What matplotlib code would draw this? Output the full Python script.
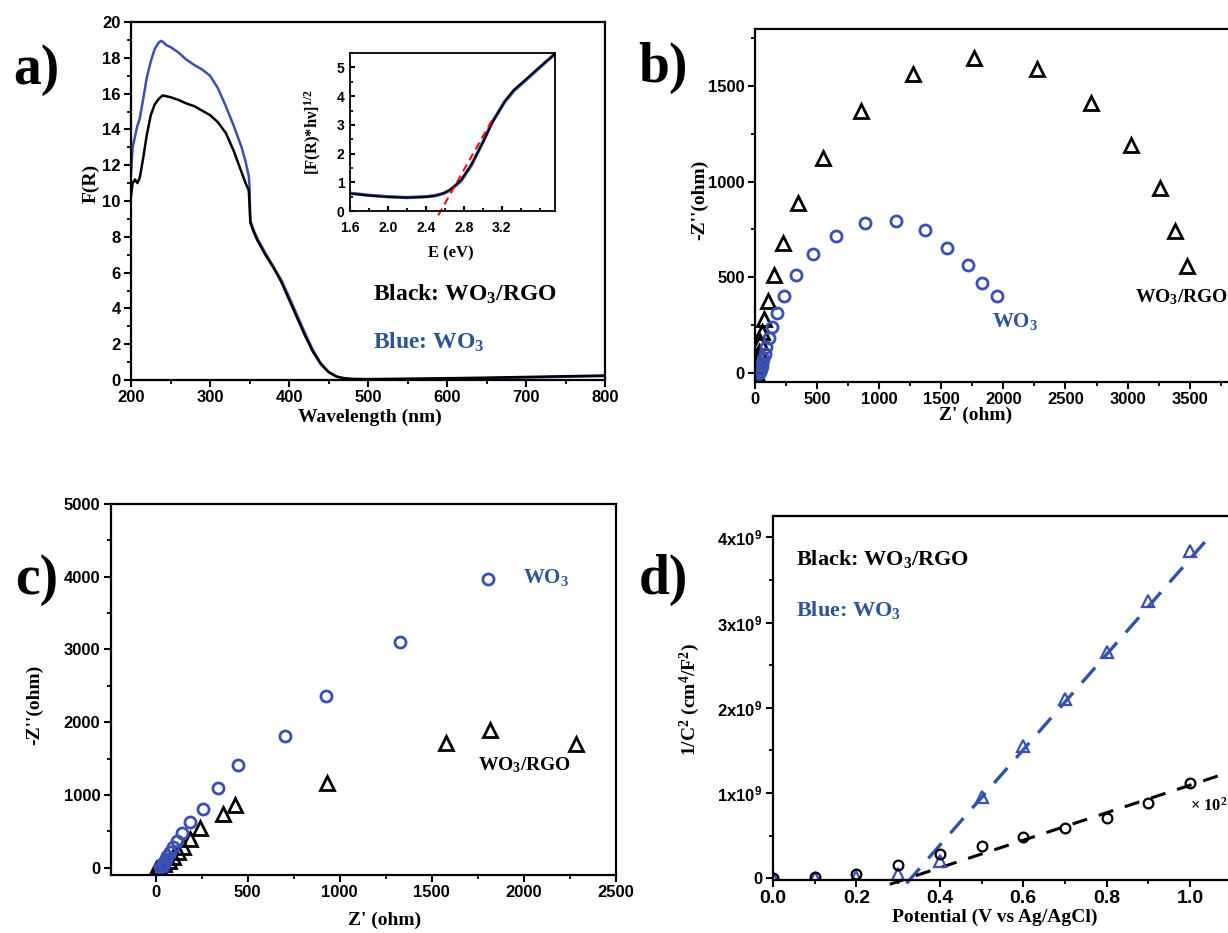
import matplotlib
matplotlib.use("Agg")
import matplotlib.pyplot as plt
from matplotlib.ticker import MultipleLocator, FixedLocator, FixedFormatter

# ---------------- data ----------------
# a) diffuse reflectance, F(R) vs wavelength
wl_black = [200, 202, 205, 208, 211, 215, 220, 225, 230, 235, 240, 245, 250, 260, 270, 280,
            290, 300, 310, 320, 330, 340, 345, 349, 350, 351, 355, 360, 370, 380, 390, 400,
            410, 420, 430, 440, 450, 460, 470, 480, 500, 550, 600, 650, 700, 750, 800]
fr_black = [10.3, 11.0, 11.2, 11.0, 11.3, 12.3, 13.7, 14.8, 15.4, 15.7, 15.9, 15.85, 15.8, 15.65,
            15.45, 15.3, 15.05, 14.8, 14.4, 13.8, 12.8, 11.6, 11.0, 10.6, 9.8, 8.8, 8.3, 7.8, 7.0,
            6.3, 5.5, 4.5, 3.5, 2.5, 1.6, 0.9, 0.45, 0.2, 0.1, 0.06, 0.05, 0.07, 0.1, 0.13,
            0.17, 0.21, 0.25]
wl_blue = [200, 202, 205, 208, 211, 215, 220, 225, 230, 235, 238, 240, 245, 250, 260, 270, 280,
           290, 300, 310, 320, 330, 340, 345, 349, 350, 351, 355, 360, 370, 380, 390, 400,
           410, 420, 430, 440, 450, 460, 470, 480, 500, 550, 600, 650, 700, 750, 800]
fr_blue = [11.5, 13.0, 13.6, 14.2, 14.6, 15.6, 16.9, 17.8, 18.5, 18.85, 18.95, 18.9, 18.7, 18.6,
           18.3, 17.9, 17.6, 17.35, 17.0, 16.3, 15.3, 14.2, 13.0, 12.2, 11.4, 10.8, 8.9, 8.4,
           7.9, 7.1, 6.35, 5.6, 4.65, 3.65, 2.65, 1.7, 0.95, 0.45, 0.18, 0.08, 0.05, 0.04,
           0.05, 0.07, 0.1, 0.14, 0.18, 0.22]

# a) inset, Tauc plot
e_ev = [1.6, 1.8, 2.0, 2.2, 2.4, 2.5, 2.59, 2.65, 2.7, 2.77, 2.88, 3.0, 3.1, 3.23, 3.33, 3.45, 3.55, 3.65, 3.76]
tauc_blue = [0.62, 0.55, 0.5, 0.47, 0.5, 0.54, 0.62, 0.72, 0.85, 1.05, 1.6, 2.4, 3.1, 3.8, 4.2, 4.55, 4.85, 5.15, 5.47]
tauc_black = [0.61, 0.54, 0.49, 0.47, 0.49, 0.53, 0.62, 0.73, 0.87, 1.08, 1.62, 2.38, 3.08, 3.82, 4.23, 4.57, 4.87, 5.16, 5.47]
tauc_fit_x = [2.53, 3.12]
tauc_fit_y = [-0.15, 3.3]
inset_xticks = [1.6, 2.0, 2.4, 2.8, 3.2]

# b) Nyquist plot
b_rgo_x = [1767, 2268, 1275, 2702, 853, 3030, 549, 3257, 349, 3385, 228, 3476, 152, 103, 73, 55,
           40, 30, 22, 15, 8]
b_rgo_y = [1645, 1588, 1562, 1412, 1367, 1193, 1126, 968, 887, 740, 679, 558, 509, 376, 281, 211,
           159, 110, 70, 35, 5]
b_wo3_x = [1132, 889, 1366, 653, 1548, 464, 1715, 328, 1830, 1950, 237, 176, 137, 112, 91, 79,
           68, 60, 54, 48, 44, 40, 36]
b_wo3_y = [792, 783, 745, 717, 653, 623, 563, 514, 471, 402, 402, 315, 237, 180, 133, 99,
           72, 52, 36, 22, 12, 5, 0]

# c) Nyquist plot
c_wo3_x = [1805, 1330, 928, 705, 450, 338, 255, 185, 145, 115, 95, 80, 62, 55, 50, 45, 40, 33, 22]
c_wo3_y = [3975, 3100, 2360, 1815, 1405, 1095, 812, 625, 480, 370, 280, 215, 160, 120, 80, 55, 25, 45, 10]
c_rgo_x = [2285, 1815, 1580, 930, 430, 365, 240, 185, 150, 120, 95, 70, 45, 20, 0]
c_rgo_y = [1700, 1890, 1720, 1160, 860, 740, 540, 390, 290, 210, 150, 95, 45, 10, -20]

# d) Mott-Schottky
potential = [0.0, 0.1, 0.2, 0.3, 0.4, 0.5, 0.6, 0.7, 0.8, 0.9, 1.0]
ms_wo3 = [0.0, 0.0, 0.02e9, 0.05e9, 0.2e9, 0.95e9, 1.55e9, 2.1e9, 2.65e9, 3.25e9, 3.84e9]
ms_rgo = [0.0, 0.01e9, 0.05e9, 0.16e9, 0.28e9, 0.375e9, 0.48e9, 0.59e9, 0.71e9, 0.88e9, 1.12e9]
fit_wo3_x = [0.32, 1.04]
fit_wo3_y = [-0.06e9, 3.97e9]
fit_rgo_x = [0.28, 1.11]
fit_rgo_y = [-0.07e9, 1.27e9]
d_yticks = [0, 1e9, 2e9, 3e9, 4e9]
d_yticklabels = ['0', r'1x10$\mathregular{^9}$', r'2x10$\mathregular{^9}$',
                 r'3x10$\mathregular{^9}$', r'4x10$\mathregular{^9}$']

# ---------------- style ----------------
BLUE = '#3b50b2'
BLUE_TXT = '#2c5593'
SERIF = 'Liberation Serif'
SANS = 'Liberation Sans'

plt.rcParams['font.family'] = SANS
plt.rcParams['font.weight'] = 'bold'
plt.rcParams['axes.linewidth'] = 1.6
plt.rcParams['xtick.major.width'] = 1.5
plt.rcParams['ytick.major.width'] = 1.5
plt.rcParams['xtick.minor.width'] = 1.3
plt.rcParams['ytick.minor.width'] = 1.3
plt.rcParams['xtick.major.size'] = 5
plt.rcParams['ytick.major.size'] = 5
plt.rcParams['xtick.minor.size'] = 3
plt.rcParams['ytick.minor.size'] = 3
plt.rcParams['xtick.major.pad'] = 2
plt.rcParams['ytick.major.pad'] = 2.5
plt.rcParams['xtick.labelsize'] = 12
plt.rcParams['ytick.labelsize'] = 12

lab_font = dict(family=SERIF, weight='bold', size=14)
panel_font = dict(family=SERIF, weight='bold', size=40, va='center', ha='center')


def style_axes(ax):
    ax.tick_params(which='both', direction='out', top=False, right=False)
    for lbl in ax.get_xticklabels() + ax.get_yticklabels():
        lbl.set_fontweight('bold')


fig = plt.figure(figsize=(12.28, 9.33), dpi=100)

# ---------------- a) ----------------
ax = fig.add_axes([0.1067, 0.5927, 0.386, 0.3837])
ax.plot(wl_blue, fr_blue, color=BLUE, lw=1.8)
ax.plot(wl_black, fr_black, color='black', lw=1.8)
ax.set_xlim(200, 800)
ax.set_ylim(0, 20)
ax.xaxis.set_major_locator(MultipleLocator(100))
ax.xaxis.set_minor_locator(MultipleLocator(50))
ax.yaxis.set_major_locator(MultipleLocator(2))
ax.yaxis.set_minor_locator(MultipleLocator(1))
style_axes(ax)
ax.set_xlabel('Wavelength (nm)', **lab_font)
ax.set_ylabel('F(R)', **lab_font)
ax.xaxis.set_label_coords(0.504, -0.08)
ax.yaxis.set_label_coords(-0.066, 0.55)
ax.text(506, 4.8, r'Black: WO$\mathregular{_3}$/RGO', family=SERIF, weight='bold',
        size=17, color='black', va='center')
ax.text(506, 2.1, r'Blue: WO$\mathregular{_3}$', family=SERIF, weight='bold',
        size=17, color=BLUE_TXT, va='center')
fig.text(0.030, 0.925, 'a)', **panel_font)

# inset
ins = fig.add_axes([0.285, 0.7738, 0.1669, 0.1693])
ins.plot(e_ev, tauc_blue, color=BLUE, lw=2.4)
ins.plot(e_ev, tauc_black, color='black', lw=1.4)
ins.plot(tauc_fit_x, tauc_fit_y, color='red', lw=1.4, ls=(0, (4, 2.5)), clip_on=False)
ins.set_xlim(1.6, 3.76)
ins.set_ylim(0, 5.5)
ins.xaxis.set_major_locator(FixedLocator(inset_xticks))
ins.xaxis.set_minor_locator(MultipleLocator(0.2))
ins.yaxis.set_major_locator(MultipleLocator(1))
ins.yaxis.set_minor_locator(MultipleLocator(0.5))
ins.tick_params(which='both', direction='in', top=False, right=False, labelsize=10)
ins.tick_params(which='major', length=3.5)
ins.tick_params(which='minor', length=2)
ins.tick_params(axis='x', pad=7)
ins.tick_params(axis='y', pad=4)
for s in ins.spines.values():
    s.set_linewidth(1.3)
ins.set_xlabel('E (eV)', family=SERIF, weight='bold', size=12)
ins.set_ylabel(r'[F(R)*hν]$\mathregular{^{1/2}}$', family=SERIF, weight='bold', size=12)
ins.xaxis.set_label_coords(0.49, -0.215)
ins.yaxis.set_label_coords(-0.125, 0.5)

# ---------------- b) ----------------
ax = fig.add_axes([0.6148, 0.5902, 0.3894, 0.3791])
ax.plot(b_rgo_x, b_rgo_y, ls='none', marker='^', ms=10, mfc='none', mec='black', mew=2)
ax.plot(b_wo3_x, b_wo3_y, ls='none', marker='o', ms=8, mfc='none', mec=BLUE, mew=2)
ax.set_xlim(0, 3850)
ax.set_ylim(-50, 1800)
ax.xaxis.set_major_locator(MultipleLocator(500))
ax.xaxis.set_minor_locator(MultipleLocator(250))
ax.yaxis.set_major_locator(MultipleLocator(500))
ax.yaxis.set_minor_locator(MultipleLocator(250))
style_axes(ax)
ax.spines['right'].set_visible(False)
ax.set_xlabel("Z' (ohm)", **lab_font)
ax.set_ylabel("-Z''(ohm)", **lab_font)
ax.xaxis.set_label_coords(0.462, -0.07)
ax.yaxis.set_label_coords(-0.098, 0.515)
ax.text(1908, 266, r'WO$\mathregular{_3}$', family=SERIF, weight='bold', size=15,
        color=BLUE_TXT, va='center')
ax.text(3060, 397, r'WO$\mathregular{_3}$/RGO', family=SERIF, weight='bold', size=14,
        color='black', va='center')
fig.text(0.540, 0.927, 'b)', **panel_font)

# ---------------- c) ----------------
ax = fig.add_axes([0.0901, 0.0622, 0.4112, 0.3976])
ax.plot(c_rgo_x, c_rgo_y, ls='none', marker='^', ms=10, mfc='none', mec='black', mew=2)
ax.plot(c_wo3_x, c_wo3_y, ls='none', marker='o', ms=8, mfc='none', mec=BLUE, mew=2)
ax.set_xlim(-245, 2500)
ax.set_ylim(-100, 5000)
ax.xaxis.set_major_locator(MultipleLocator(500))
ax.xaxis.set_minor_locator(MultipleLocator(250))
ax.yaxis.set_major_locator(MultipleLocator(1000))
ax.yaxis.set_minor_locator(MultipleLocator(500))
style_axes(ax)
ax.set_xlabel("Z' (ohm)", **lab_font)
ax.set_ylabel("-Z''(ohm)", **lab_font)
ax.xaxis.set_label_coords(0.543, -0.098)
ax.yaxis.set_label_coords(-0.134, 0.458)
ax.text(1994, 3990, r'WO$\mathregular{_3}$', family=SERIF, weight='bold', size=15,
        color=BLUE_TXT, va='center')
ax.text(1750, 1415, r'WO$\mathregular{_3}$/RGO', family=SERIF, weight='bold', size=14,
        color='black', va='center')
fig.text(0.030, 0.378, 'c)', **panel_font)

# ---------------- d) ----------------
ax = fig.add_axes([0.6295, 0.0568, 0.3803, 0.3901])
ax.plot(fit_wo3_x, fit_wo3_y, color='#2d55a8', lw=2.4, ls=(0, (6, 4)), clip_on=False)
ax.plot(fit_rgo_x, fit_rgo_y, color='black', lw=2.2, ls=(0, (5, 4)), clip_on=False)
ax.plot(potential, ms_wo3, ls='none', marker='^', ms=9, mfc='none', mec=BLUE, mew=1.6)
ax.plot(potential, ms_rgo, ls='none', marker='o', ms=7, mfc='none', mec='black', mew=1.6)
ax.set_xlim(0, 1.12)
ax.set_ylim(-0.02e9, 4.25e9)
ax.xaxis.set_major_locator(MultipleLocator(0.2))
ax.xaxis.set_minor_locator(MultipleLocator(0.1))
ax.xaxis.set_major_formatter(plt.FuncFormatter(lambda v, p: f'{v:.1f}'))
ax.yaxis.set_major_locator(FixedLocator(d_yticks))
ax.yaxis.set_major_formatter(FixedFormatter(d_yticklabels))
ax.yaxis.set_minor_locator(MultipleLocator(0.5e9))
style_axes(ax)
ax.spines['right'].set_visible(False)
ax.tick_params(axis='x', labelsize=14)
ax.set_xlabel('Potential (V vs Ag/AgCl)', **lab_font)
ax.set_ylabel(r'1/C$\mathregular{^2}$ (cm$\mathregular{^4}$/F$\mathregular{^2}$)', **lab_font)
ax.xaxis.set_label_coords(0.475, -0.08)
ax.yaxis.set_label_coords(-0.152, 0.495)
ax.text(0.056, 3.75e9, r'Black: WO$\mathregular{_3}$/RGO', family=SERIF, weight='bold',
        size=16, color='black', va='center')
ax.text(0.056, 3.15e9, r'Blue: WO$\mathregular{_3}$', family=SERIF, weight='bold',
        size=16, color=BLUE_TXT, va='center')
ax.text(1.0, 0.85e9, r'× 10$\mathregular{^2}$', family=SERIF, size=12, color='black', va='center')
fig.text(0.540, 0.378, 'd)', **panel_font)

fig.savefig('out.png', dpi=100)
